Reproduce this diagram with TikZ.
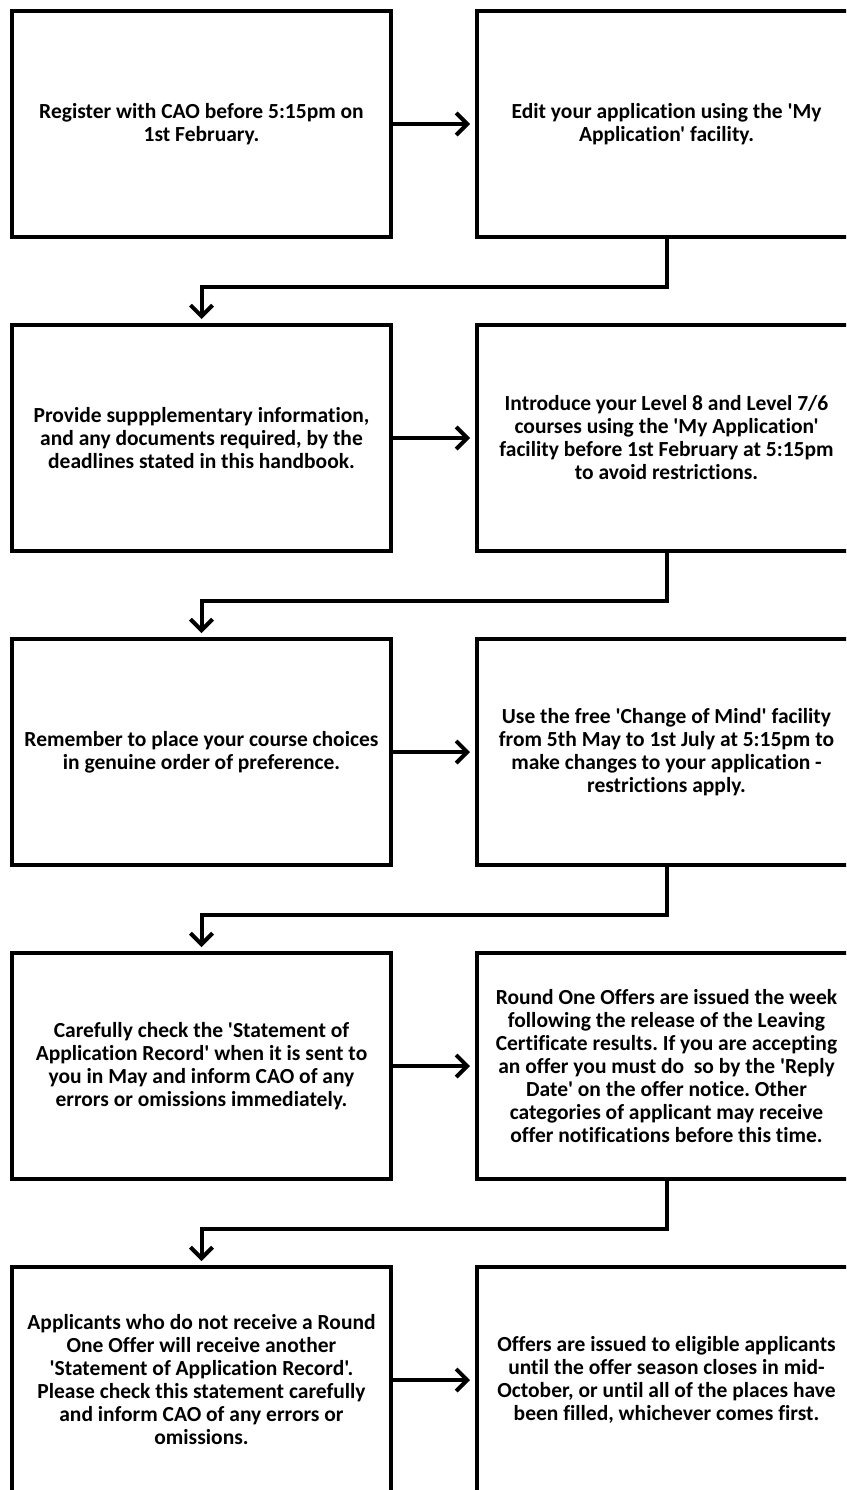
\documentclass[tikz,border=0pt]{standalone}
\usepackage{fontspec}
\setmainfont{Carlito}[Ligatures={TeXOff,CommonOff}]
\frenchspacing
\usetikzlibrary{arrows.meta, positioning}
\tikzset{
  stepbox/.style={draw, line width=4pt, minimum width=379pt, minimum height=226pt, inner sep=0pt, align=center, font=\bfseries\fontsize{21.5}{23}\selectfont},
  flow/.style={line width=4pt, -{Straight Barb[length=11pt, width=22pt]}},
}

\begin{document}
\begin{tikzpicture}[x=1pt, y=-1pt, node distance=84pt and 82pt]
\clip (0,0) rectangle (846,1490);
\node[stepbox] (l1) at (201.5,124) {Register with CAO before 5:15pm on\\1st February.};
\node[stepbox, right=of l1] (r1) {Edit your application using the 'My\\Application' facility.};
\node[stepbox, below=of l1] (l2) {Provide suppplementary information,\\and any documents required, by the\\deadlines stated in this handbook.};
\node[stepbox, right=of l2] (r2) {Introduce your Level 8 and Level 7/6\\courses using the 'My Application'\\facility before 1st February at 5:15pm\\to avoid restrictions.};
\node[stepbox, below=of l2] (l3) {Remember to place your course choices\\in genuine order of preference.};
\node[stepbox, right=of l3] (r3) {Use the free 'Change of Mind' facility\\from 5th May to 1st July at 5:15pm to\\make changes to your application -\\restrictions apply.};
\node[stepbox, below=of l3] (l4) {Carefully check the 'Statement of\\Application Record' when it is sent to\\you in May and inform CAO of any\\errors or omissions immediately.};
\node[stepbox, right=of l4] (r4) {Round One Offers are issued the week\\following the release of the Leaving\\Certificate results. If you are accepting\\an offer you must do\ \ so by the 'Reply\\Date' on the offer notice. Other\\categories of applicant may receive\\offer notifications before this time.};
\node[stepbox, below=of l4] (l5) {Applicants who do not receive a Round\\One Offer will receive another\\'Statement of Application Record'.\\Please check this statement carefully\\and inform CAO of any errors or\\omissions.};
\node[stepbox, right=of l5] (r5) {Offers are issued to eligible applicants\\until the offer season closes in mid-\\October, or until all of the places have\\been filled, whichever comes first.};
\foreach \i in {1,...,5}
  \draw[flow, shorten >=5pt] (l\i) -- (r\i);
\foreach \i/\j in {1/2,2/3,3/4,4/5}
  \draw[flow, shorten >=4pt] (r\i.south) -- ++(0,48) -| (l\j.north);
\end{tikzpicture}
\end{document}
